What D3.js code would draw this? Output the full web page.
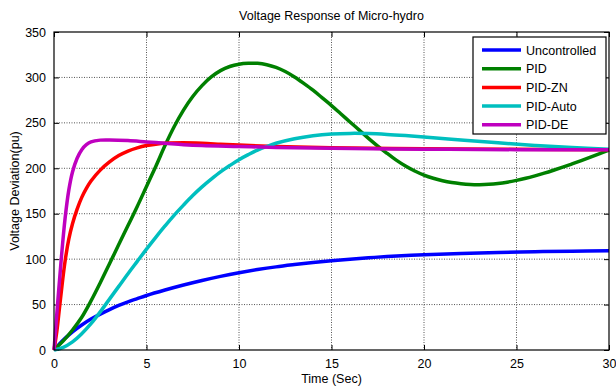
<!DOCTYPE html>
<html>
<head>
<meta charset="utf-8">
<script src="https://cdn.jsdelivr.net/npm/d3@7"></script>
<style>
  body { margin: 0; background: #fff; }
  svg { font-family: "Liberation Sans", Arial, sans-serif; }
</style>
</head>
<body>
<svg id="chart" width="616" height="388"></svg>
<script>
// values
const xTicks = [0, 5, 10, 15, 20, 25, 30]
const yTicks = [0, 50, 100, 150, 200, 250, 300, 350]

const uncontrolled = [[0, 0], [0.5, 11], [1, 20], [1.5, 27.5], [2, 34], [2.5, 39.5], [3, 44.5], [3.5, 49], [4, 53], [4.5, 56.5], [5, 60], [6, 66], [7, 71.5], [8, 76.5], [9, 81], [10, 85], [11, 88.5], [12, 91.5], [13, 94], [14, 96.3], [15, 98.3], [16, 100], [17, 101.5], [18, 102.8], [20, 104.8], [22, 106.3], [24, 107.4], [26, 108.2], [28, 108.8], [30, 109.3]]
const pid = [[0, 0], [0.5, 10], [1, 22], [1.5, 36], [2, 54], [2.5, 74], [3, 95], [3.5, 116], [4, 137], [4.5, 158], [5, 180], [5.5, 202], [6, 225], [6.5, 246], [7, 264], [7.5, 279], [8, 291], [8.5, 300.5], [9, 307.5], [9.5, 312], [10, 314.5], [10.5, 315.5], [11, 315.5], [11.5, 314], [12, 311], [12.5, 306.5], [13, 300.5], [13.5, 293.5], [14, 286], [14.5, 277.5], [15, 269], [15.5, 260], [16, 251], [16.5, 242], [17, 233], [17.5, 224.5], [18, 216.5], [18.5, 209], [19, 202.5], [19.5, 197], [20, 192.5], [20.5, 189], [21, 186.3], [21.5, 184.3], [22, 183], [22.5, 182.2], [23, 182], [23.5, 182.3], [24, 183.2], [24.5, 184.7], [25, 186.7], [25.5, 189], [26, 191.7], [26.5, 194.6], [27, 197.8], [27.5, 201.2], [28, 204.8], [28.5, 208.5], [29, 212.3], [29.5, 216.2], [30, 220]]
const pidZN = [[0, 0], [0.15, 20], [0.3, 47], [0.45, 74], [0.6, 98], [0.8, 122], [1, 139], [1.25, 155], [1.5, 168], [1.75, 178], [2, 186], [2.5, 198], [3, 207], [3.5, 214], [4, 219], [4.5, 222.5], [5, 225], [5.5, 226.5], [6, 227.5], [7, 228], [8, 227.5], [9, 226.5], [10, 225.5], [12, 224], [15, 222.5], [20, 221.5], [25, 221], [30, 220.5]]
const pidAuto = [[0, 0], [0.5, 3], [1, 9], [1.5, 18], [2, 29], [2.5, 42], [3, 56], [3.5, 70], [4, 84], [4.5, 97.5], [5, 111], [5.5, 124], [6, 136.5], [6.5, 148.5], [7, 159.5], [7.5, 170], [8, 179.5], [8.5, 188], [9, 196], [9.5, 203], [10, 209.5], [10.5, 215], [11, 220], [11.5, 224], [12, 227.5], [13, 232.5], [14, 235.8], [15, 237.7], [16, 238.4], [17, 238.2], [18, 237.3], [19, 236], [20, 234.5], [22, 231.2], [24, 228], [26, 225.2], [28, 222.8], [30, 221]]
const pidDE = [[0, 0], [0.2, 52], [0.4, 102], [0.6, 145], [0.8, 176], [1, 196], [1.25, 211], [1.5, 220.5], [1.75, 226], [2, 229], [2.5, 231], [3, 231.2], [4, 230.5], [5, 229], [6, 227.5], [7, 226], [8, 225], [10, 224], [12, 223], [15, 222], [20, 221], [25, 220.5], [30, 220.5]]

const seriesNames = ['Uncontrolled', 'PID', 'PID-ZN', 'PID-Auto', 'PID-DE']
const seriesData = [uncontrolled, pid, pidZN, pidAuto, pidDE]
const seriesColors = ['#0000ff', '#008000', '#ff0000', '#00bfbf', '#bf00bf']

const margin = { left: 54, right: 7, top: 32, bottom: 38 }
const width = 616 - margin.left - margin.right
const height = 388 - margin.top - margin.bottom

const svg = d3.select('#chart')
const g = svg.append('g').attr('transform', `translate(${margin.left},${margin.top})`)

const x = d3.scaleLinear().domain([0, 30]).range([0, width])
const y = d3.scaleLinear().domain([0, 350]).range([height, 0])

// grid
g.append('g').selectAll('line').data(xTicks.slice(1, -1)).enter().append('line')
  .attr('x1', d => x(d)).attr('x2', d => x(d)).attr('y1', 0).attr('y2', height)
  .attr('stroke', '#555').attr('stroke-dasharray', '1,1.5')
g.append('g').selectAll('line').data(yTicks.slice(1, -1)).enter().append('line')
  .attr('y1', d => y(d)).attr('y2', d => y(d)).attr('x1', 0).attr('x2', width)
  .attr('stroke', '#555').attr('stroke-dasharray', '1,1.5')

// axes, ticks inward on all sides
const xAxis = d3.axisBottom(x).tickValues(xTicks).tickSizeInner(-5).tickSizeOuter(0).tickPadding(9)
const yAxis = d3.axisLeft(y).tickValues(yTicks).tickSizeInner(-5).tickSizeOuter(0).tickPadding(8)

const gx = g.append('g').attr('transform', `translate(0,${height})`).call(xAxis)
const gy = g.append('g').call(yAxis)
g.append('g').call(d3.axisTop(x).tickValues(xTicks).tickSizeInner(-5).tickSizeOuter(0).tickFormat(''))
g.append('g').attr('transform', `translate(${width},0)`)
  .call(d3.axisRight(y).tickValues(yTicks).tickSizeInner(-5).tickSizeOuter(0).tickFormat(''))

svg.selectAll('.domain').remove()
svg.selectAll('.tick line').attr('stroke', '#000')
gx.selectAll('text').attr('font-size', 12.5).attr('fill', '#000')
gy.selectAll('text').attr('font-size', 12.5).attr('fill', '#000')

// curves
const line = d3.line().x(d => x(d[0])).y(d => y(d[1])).curve(d3.curveCatmullRom.alpha(0.5))
g.append('g').selectAll('path').data(seriesData).enter().append('path')
  .attr('d', d => line(d))
  .attr('fill', 'none')
  .attr('stroke', (d, i) => seriesColors[i])
  .attr('stroke-width', 3.5)

// box
g.append('rect').attr('width', width).attr('height', height)
  .attr('fill', 'none').attr('stroke', '#000').attr('stroke-width', 1.2)

// titles
svg.append('text').attr('x', margin.left + width / 2).attr('y', 20)
  .attr('text-anchor', 'middle').attr('font-size', 12.5).text('Voltage Response of Micro-hydro')
svg.append('text').attr('x', margin.left + width / 2).attr('y', 383)
  .attr('text-anchor', 'middle').attr('font-size', 12.5).text('Time (Sec)')
svg.append('text').attr('transform', `translate(19,${margin.top + height / 2}) rotate(-90)`)
  .attr('text-anchor', 'middle').attr('font-size', 12.5).text('Voltage Deviation(pu)')

// legend
const legend = svg.append('g').attr('transform', 'translate(473,37)')
legend.append('rect').attr('width', 133).attr('height', 97)
  .attr('fill', '#fff').attr('stroke', '#000').attr('stroke-width', 1.2)
const items = legend.selectAll('.item').data(seriesNames).enter().append('g')
  .attr('class', 'item')
  .attr('transform', (d, i) => `translate(0,${13 + i * 18.7})`)
items.append('line').attr('x1', 9).attr('x2', 48)
  .attr('stroke', (d, i) => seriesColors[i]).attr('stroke-width', 3.5)
items.append('text').attr('x', 53).attr('y', 4.5).attr('font-size', 12.5).text(d => d)
</script>
</body>
</html>
